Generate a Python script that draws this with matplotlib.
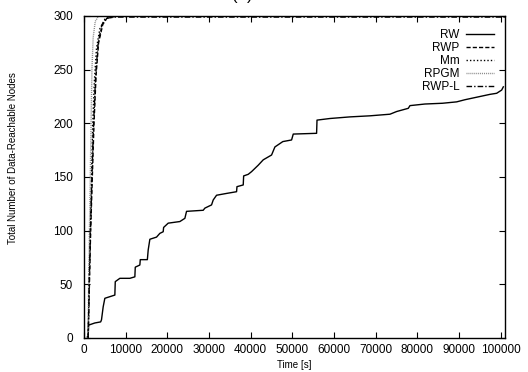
import matplotlib
matplotlib.use("Agg")
import matplotlib.pyplot as plt

plt.rcParams['font.family'] = ['Liberation Sans', 'DejaVu Sans']

# RW (random walk) curve, read point by point
rw_x = [800, 1000, 1100, 2600, 4000, 4200, 4600, 5000, 6200, 7400, 7500, 8600, 11000, 12200, 12300,
        13400, 13500, 15200, 15400, 15800, 17400, 18200, 19000, 19100, 20200, 23000, 24200,
        24600, 28600, 29000, 30600, 31000, 31800, 34200, 36600, 36700, 38200, 38300, 39400,
        40200, 41800, 43000, 45000, 45800, 47700, 49800, 50200, 55800, 55900, 59000, 63800,
        68600, 73400, 75000, 77800, 78200, 81800, 86000, 89400, 91400, 95000, 97400, 99000,
        100200, 100600]
rw_y = [1, 1, 12, 14, 15, 17, 29, 37, 38.5, 40, 52.5, 55.6, 55.6, 57, 66,
        68, 73, 73, 82, 92, 94, 97.5, 99, 103, 107, 108.5, 111.5,
        118, 119, 121, 124, 128.6, 133, 134.7, 136.3, 141, 142.6, 151, 152.5,
        155, 161, 166, 170.5, 178, 183, 184.5, 190, 190.7, 203, 204.5, 206,
        207, 208.5, 211, 214, 216.5, 218, 218.7, 220, 222, 225, 227, 228,
        231, 234]

rwp_x = [1000, 1300, 1600, 2000, 2400, 2900, 3500, 4500, 5500, 8000, 101000]
rwp_y = [0, 50, 100, 150, 200, 245, 275, 292, 298, 300, 300]

mm_x = [1000, 1200, 1500, 1800, 2100, 2500, 3000, 3800, 5000, 7000, 101000]
mm_y = [0, 50, 100, 150, 200, 240, 270, 288, 297, 300, 300]

rpgm_x = [1000, 1100, 1300, 1500, 1700, 1900, 2200, 2700, 3500, 101000]
rpgm_y = [0, 50, 100, 150, 200, 250, 280, 295, 300, 300]

rwpl_x = [1000, 1250, 1550, 1900, 2300, 2800, 3400, 4300, 5500, 7500, 101000]
rwpl_y = [0, 50, 100, 150, 200, 245, 275, 292, 298, 299, 299]

x_ticks = [0, 10000, 20000, 30000, 40000, 50000, 60000, 70000, 80000, 90000, 100000]
y_ticks = [0, 50, 100, 150, 200, 250, 300]

fig = plt.figure(figsize=(5.28, 3.72), dpi=100)
ax = fig.add_axes([84/528, 34/372, 421/528, 322/372])

ax.plot(rw_x, rw_y, color='black', lw=1.0, label='RW')
ax.plot(rwp_x, rwp_y, color='black', lw=1.0, linestyle=(0, (3, 1.5)), label='RWP')
ax.plot(mm_x, mm_y, color='black', lw=1.0, linestyle=(0, (1, 1.5)), label='Mm')
ax.plot(rpgm_x, rpgm_y, color='#888888', lw=1.0, linestyle=(0, (0.7, 0.7)), label='RPGM')
ax.plot(rwpl_x, rwpl_y, color='black', lw=1.0, linestyle=(0, (4, 1.5, 1, 1.5)), label='RWP-L')

ax.set_xlim(0, 101000)
ax.set_ylim(0, 300)
ax.set_xticks(x_ticks)
ax.set_xticklabels([str(t) for t in x_ticks], fontsize=8.5)
ax.set_yticks(y_ticks)
ax.set_yticklabels([str(t) for t in y_ticks], fontsize=8.5)
ax.tick_params(direction='in', top=True, right=True, length=4, width=0.8, pad=4)
ax.tick_params(axis='y', pad=8)
for s in ax.spines.values():
    s.set_linewidth(1.0)

ax.set_xlabel('Time [s]', fontsize=7)
ax.xaxis.set_label_coords(0.5, -0.068)
ax.set_ylabel('Total Number of Data-Reachable Nodes', fontsize=7)
ax.yaxis.set_label_coords(-0.157, 0.56)

leg = ax.legend(loc='upper right', bbox_to_anchor=(0.985, 0.975), frameon=False,
                markerfirst=False, fontsize=8.5, handlelength=2.4, handletextpad=0.5,
                labelspacing=0.1, borderaxespad=0)

fig.text(0.458, 1 - 3/372, '(a)', ha='center', va='bottom', fontsize=12)

fig.savefig('out.png', dpi=100)
